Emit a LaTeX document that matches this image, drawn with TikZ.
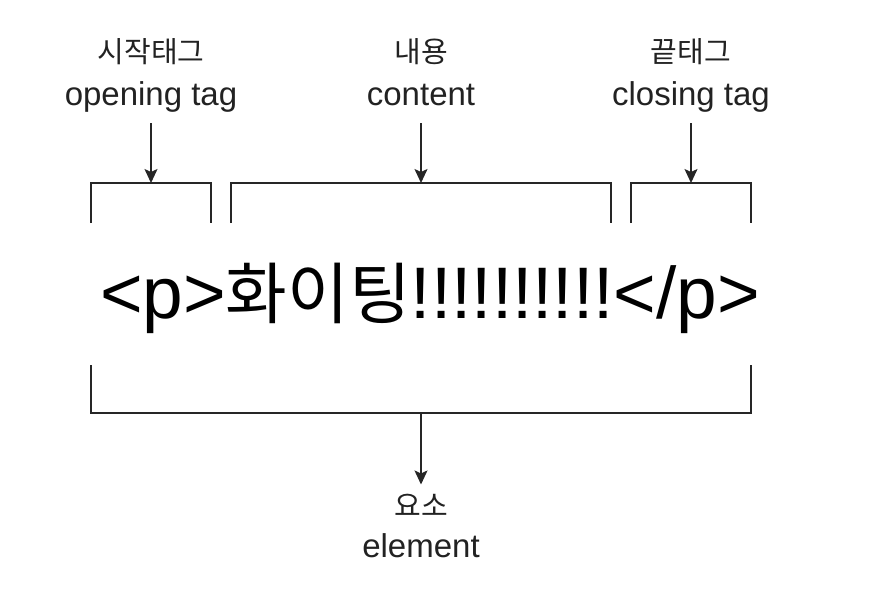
\documentclass[tikz,border=0pt]{standalone}
\usepackage{fontspec}
\usepackage{graphicx}
\setmainfont{Liberation Sans}
\newfontfamily\kr{Noto Sans CJK KR}
\usetikzlibrary{arrows.meta}
\definecolor{ink}{HTML}{222222}
\definecolor{linec}{HTML}{262626}
\tikzset{
  lab/.style={inner sep=0pt, anchor=base, text=ink, text depth=7pt, font=\fontsize{33}{33}\selectfont},
  klab/.style={inner sep=0pt, anchor=base, text=ink, font=\kr\fontsize{29}{29}\selectfont},
  brk/.style={draw=linec, line width=2pt, line join=miter},
  arr/.style={draw=linec, line width=1.6pt, -{Stealth[length=14pt, width=13pt, inset=3pt]}},
}
\begin{document}
\begin{tikzpicture}[x=1pt, y=-1pt]
\useasboundingbox (0,0) rectangle (882,598);
% labels
\node[klab] (k1) at (151,62) {시작태그};
\node[lab]  (e1) at (151,105) {opening tag};
\node[klab] (k2) at (421,62) {내용};
\node[lab]  (e2) at (421,105) {content};
\node[klab] (k3) at (691,62) {끝태그};
\node[lab]  (e3) at (691,105) {closing tag};
% bracket coordinates
\coordinate (t1) at (151,183);
\coordinate (t2) at (421,183);
\coordinate (t3) at (691,183);
\draw[brk] (91,223) -- (91,183) -- (211,183) -- (211,223);
\draw[brk] (231,223) -- (231,183) -- (611,183) -- (611,223);
\draw[brk] (631,223) -- (631,183) -- (751,183) -- (751,223);
% arrows top
\draw[arr, shorten <=11pt] (e1.south) -- (t1);
\draw[arr, shorten <=11pt] (e2.south) -- (t2);
\draw[arr, shorten <=11pt] (e3.south) -- (t3);
% main text
\node[inner sep=0pt, anchor=base, text=black, font=\fontsize{73}{73}\selectfont] (main) at (430,318)
  {<p>{\kr\fontsize{67}{67}\selectfont 화이팅}!!!!!!!!!!</p>};
% element bracket
\coordinate (em) at (421,413);
\draw[brk] (91,365) -- (91,413) -- (751,413) -- (751,365);
\node[klab] (k4) at (421,516) {요소};
\node[lab]  (e4) at (421,557) {element};
\draw[arr, shorten >=9pt] (em) -- (k4.north);
\end{tikzpicture}
\end{document}
